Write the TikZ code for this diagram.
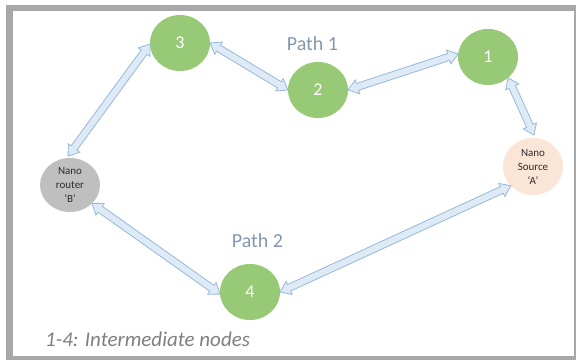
\documentclass[tikz,border=0pt]{standalone}
\usepackage{fontspec}
\setmainfont{Carlito}
\usetikzlibrary{calc,shapes.geometric}
\definecolor{nodegreen}{RGB}{152,201,118}
\definecolor{routergray}{RGB}{191,191,191}
\definecolor{sourcepeach}{RGB}{251,229,214}
\definecolor{arrowfill}{RGB}{222,235,247}
\definecolor{arrowline}{RGB}{150,184,218}
\definecolor{pathblue}{RGB}{132,151,176}
\definecolor{captiongray}{RGB}{128,128,128}
\definecolor{framegray}{RGB}{168,168,168}
\definecolor{nanotext}{RGB}{45,45,45}
\newcommand{\blockarrow}[2]{%
  \path (#1) coordinate (baP) (#2) coordinate (baQ);
  \filldraw[arrowbody] (baP)
    -- ($(baP)!10pt!(baQ)!7.2pt!90:(baQ)$)
    -- ($(baP)!10pt!(baQ)!3.6pt!90:(baQ)$)
    -- ($(baQ)!10pt!(baP)!3.6pt!-90:(baP)$)
    -- ($(baQ)!10pt!(baP)!7.2pt!-90:(baP)$)
    -- (baQ)
    -- ($(baQ)!10pt!(baP)!7.2pt!90:(baP)$)
    -- ($(baQ)!10pt!(baP)!3.6pt!90:(baP)$)
    -- ($(baP)!10pt!(baQ)!3.6pt!-90:(baQ)$)
    -- ($(baP)!10pt!(baQ)!7.2pt!-90:(baQ)$)
    -- cycle;}
\begin{document}
\begin{tikzpicture}[x=1pt,y=-1pt,
  bubble/.style={ellipse, minimum width=60pt, minimum height=56pt, inner sep=0pt, outer sep=0pt, draw=none},
  numnode/.style={bubble, fill=nodegreen, text=white, font=\fontsize{18}{20}\selectfont},
  nanonode/.style={bubble, text=nanotext, align=center, font=\fontsize{11}{14}\selectfont},
  arrowbody/.style={fill=arrowfill, draw=arrowline, line width=0.8pt, line join=miter},
  pathlabel/.style={text=pathblue, font=\fontsize{20}{22}\selectfont, inner sep=0pt, anchor=base},
  caption/.style={text=captiongray, font=\fontsize{21}{24}\selectfont\itshape, inner sep=0pt, anchor=base west}
]
\useasboundingbox (0,0) rectangle (576,360);
\fill[framegray] (6,5) rectangle (575.5,360);
\fill[white] (12.5,11) rectangle (573.5,356);

\node[numnode] (n3) at (180,43) {3};
\node[numnode] (n2) at (318,90) {2};
\node[numnode] (n1) at (488,57) {1};
\node[numnode] (n4) at (250,292) {4};
\node[nanonode, fill=routergray, minimum height=54pt] (B) at (70,185) {Nano\\router\\‘B’};
\node[nanonode, fill=sourcepeach, minimum height=57pt] (A) at (533,166.5) {Nano\\Source\\‘A’};

\node[pathlabel] (p1) at (312.5,50.5) {Path 1};
\node[pathlabel] (p2) at (257.5,247) {Path 2};
\node[caption] (cap) at (45,346) {1-4: Intermediate nodes};

\blockarrow{n3.182}{$(B.94)+(0,-2)$}
\blockarrow{n3.east}{n2.west}
\blockarrow{n2.east}{n1.174}
\blockarrow{n1.-46}{$(A.88)+(0,-3)$}
\blockarrow{B.-40}{n4.184}
\blockarrow{n4.east}{A.-139}
\end{tikzpicture}
\end{document}
